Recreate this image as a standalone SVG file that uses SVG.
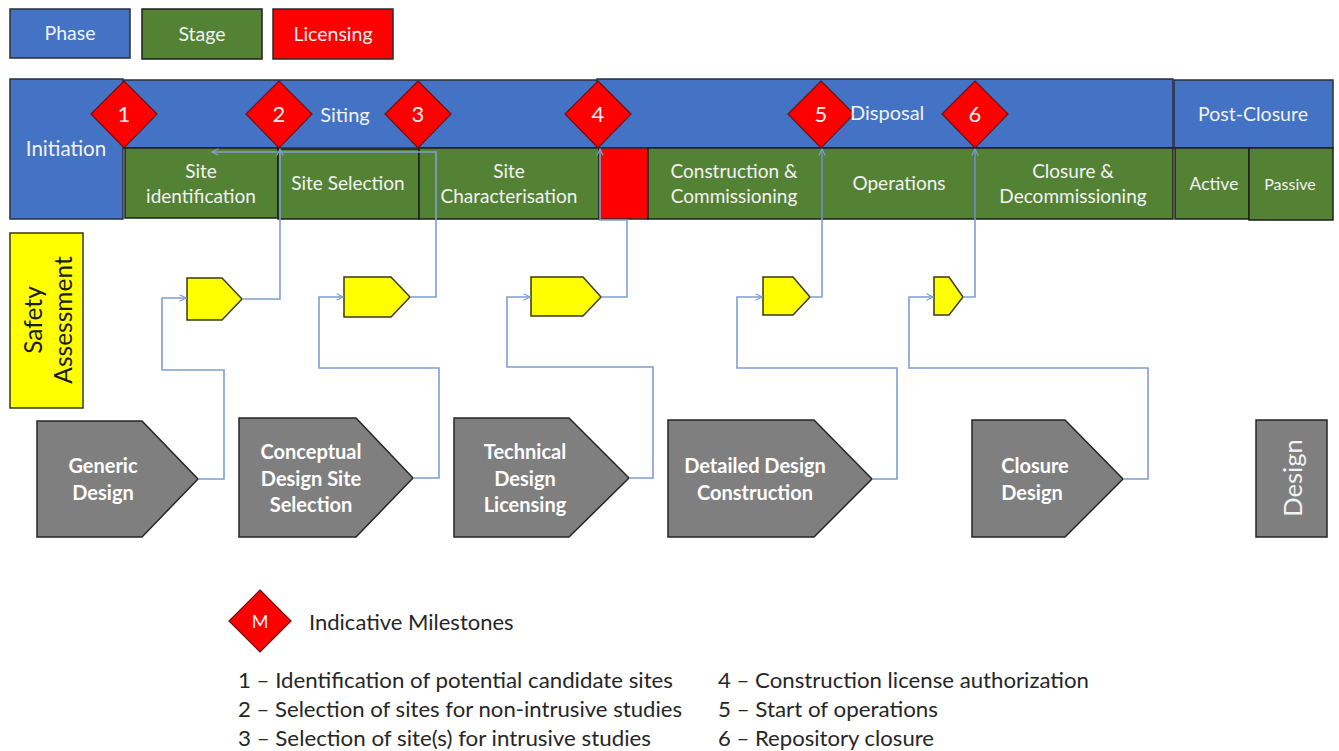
<svg xmlns="http://www.w3.org/2000/svg" width="1339" height="751" viewBox="0 0 1339 751">
  <defs>
    <style>
      .phase { fill: #4472C4; stroke: #2a2f3a; stroke-width: 1.5; }
      .stage { fill: #548235; stroke: #1e1e1e; stroke-width: 1.5; }
      .lic { fill: #FF0000; stroke: #2a2a2a; stroke-width: 1.5; }
      .ms { fill: #FF0000; stroke: #6b1010; stroke-width: 1.2; }
      .sa { fill: #FFFF00; stroke: #3a3a10; stroke-width: 1.5; }
      .des { fill: #7F7F7F; stroke: #262626; stroke-width: 1.5; }
      .wt { font-family: Lato, "Open Sans", sans-serif; fill: #F2F2F2; text-anchor: middle; }
      .bt { font-family: Lato, "Open Sans", sans-serif; fill: #FFFFFF; text-anchor: middle; font-weight: bold; }
      .dk { font-family: Lato, "Open Sans", sans-serif; fill: #262626; }
      .conn { fill: none; stroke: #7F9FD3; stroke-width: 1.6; }
    </style>
    <marker id="arr" viewBox="0 0 10 10" refX="9" refY="5" markerWidth="8" markerHeight="8" orient="auto" markerUnits="userSpaceOnUse">
      <path d="M1,1 L9,5 L1,9" fill="none" stroke="#7F9FD3" stroke-width="1.4"/>
    </marker>
  </defs>
  <rect width="1339" height="751" fill="#FFFFFF"/>

  <!-- legend boxes -->
  <g id="legend-phase"><rect class="phase" x="10" y="9" width="120" height="49"/><text class="wt" x="70" y="40" font-size="19.5">Phase</text></g>
  <g id="legend-stage"><rect class="stage" x="142" y="9" width="120" height="50"/><text class="wt" x="202" y="41" font-size="19.5">Stage</text></g>
  <g id="legend-licensing"><rect class="lic" x="273" y="9" width="120" height="50"/><text class="wt" x="333" y="41" font-size="19.5">Licensing</text></g>

  <!-- phases -->
  <g id="phase-siting"><rect class="phase" x="123" y="80" width="474" height="68"/></g>
  <g id="phase-disposal"><rect class="phase" x="597" y="79" width="576" height="69"/></g>
  <g id="phase-postclosure"><rect class="phase" x="1174" y="80" width="159" height="68"/><text class="wt" x="1253" y="121" font-size="19.5">Post-Closure</text></g>
  <g id="phase-initiation"><rect class="phase" x="10" y="79" width="113" height="140"/><text class="wt" x="66" y="156" font-size="20.5">Initiation</text></g>

  <!-- stages -->
  <g id="stage-site-identification"><rect class="stage" x="125" y="148" width="153" height="70"/><text class="wt" font-size="19"><tspan x="201" y="178">Site</tspan><tspan x="201" y="203">identification</tspan></text></g>
  <g id="stage-site-selection"><rect class="stage" x="278" y="149" width="141" height="70"/><text class="wt" x="348" y="190" font-size="19">Site Selection</text></g>
  <g id="stage-site-characterisation"><rect class="stage" x="419" y="148" width="180" height="71"/><text class="wt" font-size="19"><tspan x="509" y="178">Site</tspan><tspan x="509" y="203">Characterisation</tspan></text></g>
  <g id="licensing-block"><rect class="lic" x="599" y="148" width="49" height="71"/></g>
  <g id="stage-construction"><rect class="stage" x="648" y="148" width="174" height="71"/><text class="wt" font-size="19"><tspan x="734" y="178">Construction &amp;</tspan><tspan x="734" y="203">Commissioning</tspan></text></g>
  <g id="stage-operations"><rect class="stage" x="822" y="148" width="153" height="71"/><text class="wt" x="899" y="190" font-size="19">Operations</text></g>
  <g id="stage-closure"><rect class="stage" x="975" y="148" width="198" height="71"/><text class="wt" font-size="19"><tspan x="1073" y="178">Closure &amp;</tspan><tspan x="1073" y="203">Decommissioning</tspan></text></g>
  <g id="stage-active"><rect class="stage" x="1175" y="148" width="74" height="71"/><text class="wt" x="1214" y="190" font-size="17.5">Active</text></g>
  <g id="stage-passive"><rect class="stage" x="1249" y="148" width="84" height="72"/><text class="wt" x="1290" y="190" font-size="16">Passive</text></g>

  <!-- safety assessment label -->
  <g id="safety-assessment">
    <rect x="10" y="233" width="73" height="175" fill="#FFFF00" stroke="#3a3a10" stroke-width="1.5"/>
    <text font-family="Lato, 'Open Sans', sans-serif" font-size="24.5" fill="#1a1a1a" text-anchor="middle" transform="translate(46,320) rotate(-90)"><tspan x="0" y="-4">Safety</tspan><tspan x="0" y="26">Assessment</tspan></text>
  </g>

  <!-- safety assessment markers -->
  <g id="sa-1"><polygon class="sa" points="187,278 222,278 242,299 222,320 187,320"/></g>
  <g id="sa-2"><polygon class="sa" points="344,277 391,277 410,297 391,317 344,317"/></g>
  <g id="sa-3"><polygon class="sa" points="531,277 583,277 601,297 583,316 531,316"/></g>
  <g id="sa-4"><polygon class="sa" points="763,277 793,277 810,297 793,315 763,315"/></g>
  <g id="sa-5"><polygon class="sa" points="934,277 949,277 963,297 949,315 934,315"/></g>

  <!-- design stages -->
  <g id="design-generic"><polygon class="des" points="37,421 142,421 198,479 142,537 37,537"/><text class="bt" font-size="20"><tspan x="103" y="473">Generic</tspan><tspan x="103" y="500">Design</tspan></text></g>
  <g id="design-conceptual"><polygon class="des" points="239,418 356,418 413,478 356,537 239,537"/><text class="bt" font-size="20"><tspan x="311" y="459">Conceptual</tspan><tspan x="311" y="486">Design Site</tspan><tspan x="311" y="512">Selection</tspan></text></g>
  <g id="design-technical"><polygon class="des" points="454,418 569,418 629,478 569,537 454,537"/><text class="bt" font-size="20"><tspan x="525" y="459">Technical</tspan><tspan x="525" y="486">Design</tspan><tspan x="525" y="512">Licensing</tspan></text></g>
  <g id="design-detailed"><polygon class="des" points="668,420 814,420 872,479 814,537 668,537"/><text class="bt" font-size="20"><tspan x="755" y="473">Detailed Design</tspan><tspan x="755" y="500">Construction</tspan></text></g>
  <g id="design-closure"><polygon class="des" points="972,420 1065,420 1123,479 1065,537 972,537"/><text class="bt" font-size="20"><tspan x="1035" y="473">Closure</tspan><tspan x="1032" y="500">Design</tspan></text></g>
  <g id="design-label"><rect class="des" x="1256" y="420" width="71" height="117"/><text font-family="Lato, 'Open Sans', sans-serif" font-size="25.5" fill="#F2F2F2" text-anchor="middle" transform="translate(1302,478) rotate(-90)">Design</text></g>

  <!-- connectors -->
  <g id="connectors">
    <polyline class="conn" points="198,479 224,479 224,370 162,370 162,298 186,298" marker-end="url(#arr)"/>
    <polyline class="conn" points="413,478 439,478 439,368 319,368 319,297 343,297" marker-end="url(#arr)"/>
    <polyline class="conn" points="629,478 653,478 653,367 507,367 507,297 530,297" marker-end="url(#arr)"/>
    <polyline class="conn" points="872,479 897,479 897,368 737,368 737,297 762,297" marker-end="url(#arr)"/>
    <polyline class="conn" points="1123,479 1148,479 1148,368 909,368 909,297 933,297" marker-end="url(#arr)"/>
    <polyline class="conn" points="242,299 280,299 280,149" marker-end="url(#arr)"/>
    <polyline class="conn" points="410,297 436,297 436,152 212,152" marker-end="url(#arr)"/>
    <polyline class="conn" points="601,297 627,297 627,220 600,220 600,149" marker-end="url(#arr)"/>
    <polyline class="conn" points="810,297 822,297 822,149" marker-end="url(#arr)"/>
    <polyline class="conn" points="963,297 975,297 975,149" marker-end="url(#arr)"/>
  </g>

  <!-- milestones -->
  <g id="milestone-1"><polygon class="ms" points="124,81 157,114 124,148 91,114"/><text class="wt" x="124" y="122" font-size="22">1</text></g>
  <g id="milestone-2"><polygon class="ms" points="279,81 312,114 279,148 246,114"/><text class="wt" x="279" y="122" font-size="22">2</text></g>
  <g id="milestone-3"><polygon class="ms" points="418,81 451,114 418,148 385,114"/><text class="wt" x="418" y="122" font-size="22">3</text></g>
  <g id="milestone-4"><polygon class="ms" points="598,81 631,114 598,148 565,114"/><text class="wt" x="598" y="122" font-size="22">4</text></g>
  <g id="milestone-5"><polygon class="ms" points="821,81 854,114 821,148 788,114"/><text class="wt" x="821" y="122" font-size="22">5</text></g>
  <g id="milestone-6"><polygon class="ms" points="975,81 1008,114 975,148 942,114"/><text class="wt" x="975" y="122" font-size="22">6</text></g>

  <!-- phase titles drawn over the milestones -->
  <text class="wt" x="345" y="122" font-size="20">Siting</text>
  <text class="wt" x="850" y="120" font-size="20" text-anchor="start" style="text-anchor:start">Disposal</text>

  <!-- milestone legend -->
  <g id="legend-milestone">
    <polygon class="ms" points="260,590 291,621 260,652 229,621"/>
    <text class="wt" x="260" y="628" font-size="18">M</text>
    <text class="dk" x="309" y="630" font-size="22">Indicative Milestones</text>
  </g>
  <g id="milestone-list">
    <text class="dk" x="238" y="688" font-size="20.5" textLength="435" lengthAdjust="spacingAndGlyphs">1 – Identification of potential candidate sites</text>
    <text class="dk" x="238" y="717" font-size="20.5" textLength="444" lengthAdjust="spacingAndGlyphs">2 – Selection of sites for non-intrusive studies</text>
    <text class="dk" x="238" y="746" font-size="20.5" textLength="413" lengthAdjust="spacingAndGlyphs">3 – Selection of site(s) for intrusive studies</text>
    <text class="dk" x="718" y="688" font-size="20.5" textLength="371" lengthAdjust="spacingAndGlyphs">4 – Construction license authorization</text>
    <text class="dk" x="718" y="717" font-size="20.5" textLength="220" lengthAdjust="spacingAndGlyphs">5 – Start of operations</text>
    <text class="dk" x="718" y="746" font-size="20.5" textLength="216" lengthAdjust="spacingAndGlyphs">6 – Repository closure</text>
  </g>
</svg>
